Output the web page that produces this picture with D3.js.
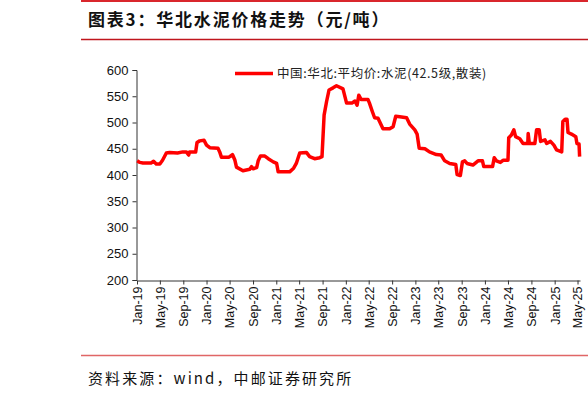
<!DOCTYPE html>
<html>
<head>
<meta charset="utf-8">
<script src="https://cdn.jsdelivr.net/npm/d3@7"></script>
<style>
  body { margin: 0; background: #fff; overflow: hidden; }
  svg { display: block; }
</style>
</head>
<body>
<div id="chart"></div>
<script>
// weekly-ish readings of the price line (yuan/ton)
var dates = ["2019-01-02","2019-01-16","2019-02-01","2019-03-16","2019-03-29","2019-04-12","2019-05-01","2019-05-15","2019-06-04","2019-06-21","2019-08-02","2019-08-29","2019-09-17","2019-09-29","2019-10-04","2019-11-05","2019-11-12","2019-11-26","2019-12-19","2020-01-01","2020-01-18","2020-03-01","2020-03-10","2020-03-19","2020-04-28","2020-05-16","2020-05-29","2020-06-06","2020-07-10","2020-08-15","2020-08-24","2020-09-01","2020-09-20","2020-09-28","2020-10-10","2020-11-02","2020-11-20","2020-12-16","2021-01-03","2021-01-11","2021-03-12","2021-04-02","2021-04-16","2021-05-04","2021-06-08","2021-06-25","2021-07-21","2021-08-17","2021-08-29","2021-09-09","2021-09-22","2021-10-05","2021-10-26","2021-11-13","2021-12-17","2022-01-05","2022-02-02","2022-02-18","2022-03-01","2022-03-10","2022-03-22","2022-04-27","2022-05-05","2022-05-20","2022-06-01","2022-06-19","2022-06-27","2022-07-15","2022-08-19","2022-09-06","2022-09-20","2022-10-11","2022-11-16","2022-12-02","2022-12-29","2023-01-10","2023-01-21","2023-02-20","2023-03-16","2023-04-21","2023-05-16","2023-06-04","2023-06-30","2023-08-01","2023-08-08","2023-08-25","2023-09-05","2023-09-17","2023-09-29","2023-10-30","2023-11-26","2023-12-19","2023-12-26","2024-02-10","2024-02-19","2024-03-01","2024-03-22","2024-04-05","2024-05-01","2024-05-05","2024-05-19","2024-06-01","2024-06-10","2024-07-02","2024-07-19","2024-08-13","2024-08-15","2024-08-21","2024-09-19","2024-09-28","2024-10-12","2024-10-19","2024-11-11","2024-11-20","2024-12-10","2024-12-28","2025-01-11","2025-02-07","2025-02-13","2025-02-25","2025-03-07","2025-03-12","2025-03-30","2025-04-22","2025-04-28","2025-05-09","2025-05-12"];
var prices = [427,424,423,423,426,421,421,428,442,443,442,444,444,438,444,444,462,465,466,457,452,451,444,434,434,439,428,415,408,411,416,412,414,427,436,436,431,425,422,406,406,413,422,442,443,435,431,433,435,514,540,562,566,570,564,537,537,541,533,552,544,544,537,521,509,508,502,488,488,492,512,511,509,497,486,478,451,450,444,439,438,427,422,420,401,399,425,427,422,419,427,427,416,416,433,427,424,428,428,471,476,486,473,469,460,460,479,460,460,486,486,464,467,460,464,457,448,444,502,506,506,481,478,473,460,459,435];
var yTicks = [200,250,300,350,400,450,500,550,600];
var seriesName = "中国:华北:平均价:水泥(42.5级,散装)";
var title = "图表3：华北水泥价格走势（元/吨）";
var source = "资料来源：wind，中邮证券研究所";

var W = 588, H = 394;
var parse = d3.timeParse("%Y-%m-%d");
var data = dates.map(function (d, i) { return { date: parse(d), v: prices[i] }; });

var svg = d3.select("#chart").append("svg")
  .attr("width", W).attr("height", H);

// header / footer rules
svg.append("line").attr("x1", 81).attr("x2", W).attr("y1", 1).attr("y2", 1)
  .attr("stroke", "#d9262c").attr("stroke-width", 2);
svg.append("line").attr("x1", 81).attr("x2", W).attr("y1", 39.5).attr("y2", 39.5)
  .attr("stroke", "#c0161d").attr("stroke-width", 1.5);
svg.append("line").attr("x1", 81).attr("x2", W).attr("y1", 355.5).attr("y2", 355.5)
  .attr("stroke", "#e06666").attr("stroke-width", 1.5);

svg.append("text").attr("x", 88).attr("y", 26)
  .attr("font-family", "Noto Sans CJK SC").attr("font-weight", "bold")
  .attr("font-size", 17).attr("letter-spacing", 1.8)
  .attr("fill", "#111").text(title);
svg.append("text").attr("x", 88).attr("y", 384)
  .attr("font-family", "Noto Sans CJK SC")
  .attr("font-size", 15).attr("letter-spacing", 2.1)
  .attr("fill", "#111").text(source);

var x = d3.scaleTime()
  .domain([parse("2019-01-01"), parse("2025-05-14")])
  .range([137, 580]);
var y = d3.scaleLinear().domain([200, 600]).range([280, 70]);

var g = svg.append("g");

// y axis
var yAxis = g.append("g")
  .attr("transform", "translate(136.5,0)")
  .call(d3.axisLeft(y).tickValues(yTicks).tickSize(4).tickPadding(4));
yAxis.select(".domain").attr("stroke", "#333");
yAxis.selectAll(".tick line").attr("stroke", "#333");
yAxis.selectAll("text").attr("font-family", "Liberation Sans, Arial")
  .attr("font-size", 13).attr("fill", "#111");

// x axis
var xAxis = g.append("g")
  .attr("transform", "translate(0,280.5)")
  .call(d3.axisBottom(x)
    .ticks(d3.timeMonth.every(4))
    .tickFormat(d3.timeFormat("%b-%y"))
    .tickSize(4).tickSizeOuter(0));
xAxis.select(".domain").attr("stroke", "#333");
xAxis.selectAll(".tick line").attr("stroke", "#333");
xAxis.selectAll("text")
  .attr("font-family", "Liberation Sans, Arial").attr("font-size", 12.5).attr("fill", "#111")
  .attr("transform", "rotate(-90)")
  .attr("text-anchor", "end")
  .attr("x", 0).attr("y", 0)
  .attr("dy", "0.35em").attr("dx", "-6");

// line
var line = d3.line()
  .x(function (d) { return x(d.date); })
  .y(function (d) { return y(d.v); });
g.append("path").datum(data)
  .attr("d", line)
  .attr("fill", "none")
  .attr("stroke", "#ff0000")
  .attr("stroke-width", 3.5)
  .attr("stroke-linejoin", "round");

// legend
g.append("line").attr("x1", 235).attr("x2", 273).attr("y1", 73.5).attr("y2", 73.5)
  .attr("stroke", "#ff0000").attr("stroke-width", 3.5);
g.append("text").attr("x", 277).attr("y", 78)
  .attr("font-family", "Noto Sans CJK SC").attr("font-size", 12.5)
  .attr("letter-spacing", 0.6)
  .attr("fill", "#222").text(seriesName);
</script>
</body>
</html>
